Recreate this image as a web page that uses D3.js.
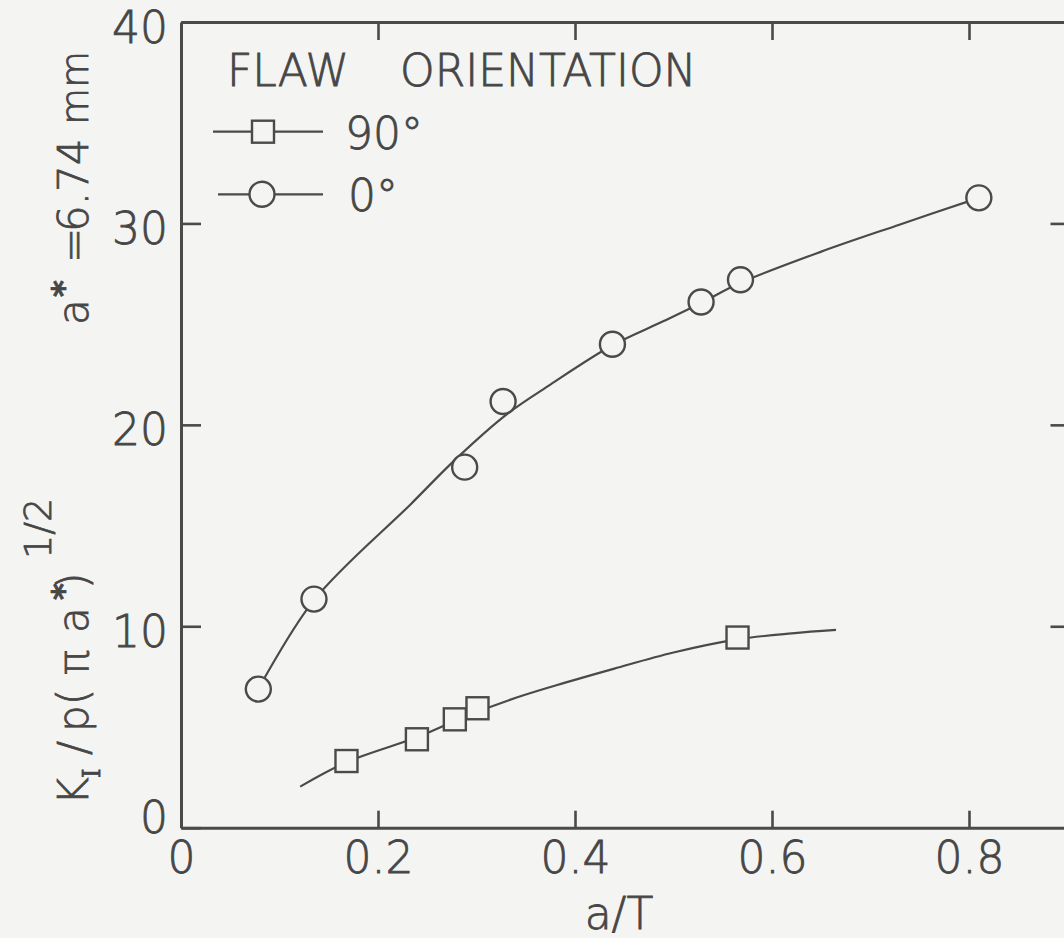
<!DOCTYPE html>
<html>
<head>
<meta charset="utf-8">
<script src="https://cdn.jsdelivr.net/npm/d3@7/dist/d3.min.js"></script>
<style>
  html, body { margin: 0; padding: 0; background: #f4f4f2; }
  svg { display: block; }
  text { font-family: "DejaVu Sans", sans-serif; font-weight: 200; fill: #464646; stroke: #464646; stroke-width: 0.8px; }
</style>
</head>
<body>
<svg id="chart" width="1064" height="938"></svg>
<script>
// ---- data ----
const xTicks = [0, 0.2, 0.4, 0.6, 0.8];
const xTickLabels = ["0", "0.2", "0.4", "0.6", "0.8"];
const yTicks = [0, 10, 20, 30, 40];
const yTickLabels = ["0", "10", "20", "30", "40"];

// 0 deg flaw orientation (circles)
const circleX = [0.0785, 0.135, 0.288, 0.327, 0.438, 0.528, 0.568, 0.81];
const circleY = [6.88, 11.35, 17.9, 21.16, 24.0, 26.1, 27.2, 31.27];
// fitted curve for 0 deg
const fit0X = [0.0785, 0.135, 0.233, 0.28, 0.33, 0.375, 0.438, 0.49, 0.528, 0.568, 0.65, 0.73, 0.81];
const fit0Y = [6.88, 11.3, 16.05, 18.35, 20.5, 22.0, 23.95, 25.15, 26.05, 27.05, 28.6, 29.95, 31.27];

// 90 deg flaw orientation (squares)
const squareX = [0.168, 0.2395, 0.278, 0.301, 0.565];
const squareY = [3.31, 4.39, 5.38, 5.93, 9.44];
// fitted curve for 90 deg
const fit90X = [0.121, 0.168, 0.24, 0.29, 0.34, 0.39, 0.44, 0.50, 0.565, 0.62, 0.665];
const fit90Y = [2.04, 3.25, 4.5, 5.55, 6.45, 7.2, 7.9, 8.7, 9.35, 9.65, 9.82];

const legendTitle = ["FLAW", "ORIENTATION"];
const legendLabels = ["90°", "0°"];

// ---- drawing ----
const svg = d3.select("#chart");
const ink = "#4a4a4a";

const x = d3.scaleLinear().domain([0, 0.9]).range([181, 1067.5]);
const y = d3.scaleLinear().domain([0, 40]).range([827.7, 22]);

function styleAxis(g) {
  g.select(".domain").attr("stroke", ink).attr("stroke-width", 3);
  g.selectAll(".tick line").attr("stroke", ink).attr("stroke-width", 2.6);
}

// bottom axis
const gB = svg.append("g").attr("transform", `translate(0,${y(0)})`)
  .call(d3.axisBottom(x).tickValues(xTicks).tickSize(-17).tickSizeOuter(0)
    .tickFormat((d, i) => xTickLabels[i]));
styleAxis(gB);
gB.selectAll(".tick text").attr("y", 45).attr("dy", 0)
  .attr("font-size", 44).attr("font-family", null).attr("fill", null);

// top axis
const gT = svg.append("g").attr("transform", `translate(0,${y(40)})`)
  .call(d3.axisTop(x).tickValues(xTicks.slice(1)).tickSize(-18).tickSizeOuter(0).tickFormat(""));
styleAxis(gT);

// left axis
const gL = svg.append("g").attr("transform", `translate(${x(0)},0)`)
  .call(d3.axisLeft(y).tickValues(yTicks).tickSize(-20).tickSizeOuter(0)
    .tickFormat((d, i) => yTickLabels[i]));
styleAxis(gL);
gL.selectAll(".tick text").attr("x", -13).attr("dy", 0)
  .attr("y", d => d === 0 ? 5 : 20)
  .attr("font-size", 44).attr("font-family", null).attr("fill", null);

// right axis
const gR = svg.append("g").attr("transform", `translate(${x(0.9)},0)`)
  .call(d3.axisRight(y).tickValues(yTicks.slice(1, 4)).tickSize(-17).tickSizeOuter(0).tickFormat(""));
styleAxis(gR);

// curves
const line = d3.line().x(d => x(d[0])).y(d => y(d[1])).curve(d3.curveCatmullRom.alpha(0.5));
svg.append("path").datum(fit0X.map((v, i) => [v, fit0Y[i]]))
  .attr("d", line).attr("fill", "none").attr("stroke", ink).attr("stroke-width", 2.2);
svg.append("path").datum(fit90X.map((v, i) => [v, fit90Y[i]]))
  .attr("d", line).attr("fill", "none").attr("stroke", ink).attr("stroke-width", 2.2);

// markers
const bg = "#f4f4f2";
const R = 12.5, S = 22;
svg.append("g").selectAll("circle").data(circleX.map((v, i) => [v, circleY[i]])).join("circle")
  .attr("cx", d => x(d[0])).attr("cy", d => y(d[1])).attr("r", R)
  .attr("fill", bg).attr("stroke", ink).attr("stroke-width", 2.4);
svg.append("g").selectAll("rect").data(squareX.map((v, i) => [v, squareY[i]])).join("rect")
  .attr("x", d => x(d[0]) - S / 2).attr("y", d => y(d[1]) - S / 2)
  .attr("width", S).attr("height", S)
  .attr("fill", bg).attr("stroke", ink).attr("stroke-width", 2.4);

// legend
const lg = svg.append("g");
lg.append("text").attr("x", 227).attr("y", 86).attr("font-size", 44).text(legendTitle[0]);
lg.append("text").attr("x", 400).attr("y", 86).attr("font-size", 44).text(legendTitle[1]);
lg.append("line").attr("x1", 213).attr("x2", 323).attr("y1", 131.7).attr("y2", 131.7)
  .attr("stroke", ink).attr("stroke-width", 2.2);
lg.append("rect").attr("x", 263 - S / 2).attr("y", 131.7 - S / 2).attr("width", S).attr("height", S)
  .attr("fill", bg).attr("stroke", ink).attr("stroke-width", 2.4);
lg.append("text").attr("x", 345).attr("y", 149).attr("font-size", 44).text(legendLabels[0]);
lg.append("line").attr("x1", 218).attr("x2", 323).attr("y1", 194.3).attr("y2", 194.3)
  .attr("stroke", ink).attr("stroke-width", 2.2);
lg.append("circle").attr("cx", 262).attr("cy", 194.3).attr("r", R)
  .attr("fill", bg).attr("stroke", ink).attr("stroke-width", 2.4);
lg.append("text").attr("x", 348).attr("y", 211).attr("font-size", 44).text(legendLabels[1]);

// x axis title
svg.append("text").attr("x", 619).attr("y", 929).attr("text-anchor", "middle")
  .attr("font-size", 44).text("a/T");

// y axis title (lower part)
const t1 = svg.append("text").attr("transform", "translate(88,805) rotate(-90)").attr("font-size", 42);
t1.append("tspan").attr("x", 0).attr("y", 0).text("K");
t1.append("tspan").attr("x", 27).attr("y", 12).attr("font-size", 24).attr("font-family", "DejaVu Serif").text("I");
t1.append("tspan").attr("x", 50).attr("y", 0).text("/");
t1.append("tspan").attr("x", 73).attr("y", 0).text("p(");
t1.append("tspan").attr("x", 130).attr("y", 0).text("π");
t1.append("tspan").attr("x", 172).attr("y", 0).text("a");
t1.append("tspan").attr("x", 205).attr("y", -14).attr("font-size", 32).attr("font-weight", 700).text("*");
t1.append("tspan").attr("x", 216).attr("y", 0).text(")");
t1.append("tspan").attr("x", 246).attr("y", -37).attr("font-size", 38).text("1/2");

// y axis title (upper part)
const t2 = svg.append("text").attr("transform", "translate(88,325) rotate(-90)").attr("font-size", 42);
t2.append("tspan").attr("x", 0).attr("y", 0).text("a");
t2.append("tspan").attr("x", 28).attr("y", -14).attr("font-size", 32).attr("font-weight", 700).text("*");
t2.append("tspan").attr("x", 62).attr("y", 0).text("=");
t2.append("tspan").attr("x", 93).attr("y", 0).text("6.74");
t2.append("tspan").attr("x", 200).attr("y", 0).attr("font-size", 38).text("mm");
</script>
</body>
</html>
